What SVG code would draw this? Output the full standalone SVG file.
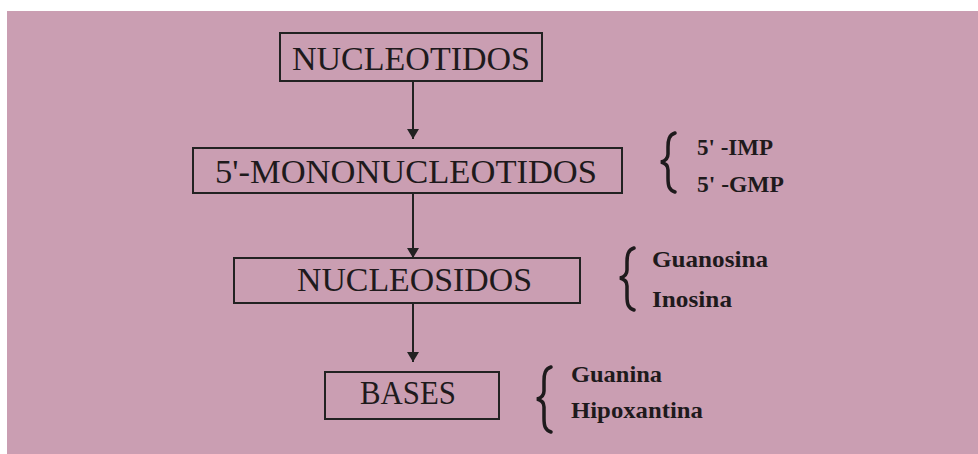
<svg xmlns="http://www.w3.org/2000/svg" width="978" height="454" viewBox="0 0 978 454">
<defs>
<style>
.box{fill:none;stroke:#222;stroke-width:2}
.main{font-family:"Liberation Serif","Times New Roman",serif;font-size:33px;fill:#1e1a1c}
.side{font-family:"Liberation Serif","Times New Roman",serif;font-size:23px;font-weight:bold;fill:#1e1a1c}
.conn{stroke:#222;stroke-width:2;fill:none}
.brace{stroke:#1e1a1c;stroke-width:3.5;fill:none;stroke-linecap:round}
</style>
<marker id="ah" viewBox="0 0 10 12" refX="10" refY="6" markerWidth="10" markerHeight="12" markerUnits="userSpaceOnUse" orient="auto">
<path d="M0,0 L10,6 L0,12 Z" fill="#222"/>
</marker>
</defs>
<rect x="7" y="11" width="971" height="443" fill="#ca9eb2"/>
<g id="connectors">
<line class="conn" x1="413" y1="81" x2="413" y2="139" marker-end="url(#ah)"/>
<line class="conn" x1="413" y1="193" x2="413" y2="258" marker-end="url(#ah)"/>
<line class="conn" x1="413" y1="303" x2="413" y2="362" marker-end="url(#ah)"/>
</g>
<g id="nucleotidos">
<rect class="box" x="280" y="33" width="262" height="48"/>
<text class="main" x="292" y="70" textLength="238" lengthAdjust="spacingAndGlyphs">NUCLEOTIDOS</text>
</g>
<g id="mononucleotidos">
<rect class="box" x="193" y="148" width="429" height="45"/>
<text class="main" x="215" y="183" textLength="382" lengthAdjust="spacingAndGlyphs">5'-MONONUCLEOTIDOS</text>
</g>
<g id="nucleosidos">
<rect class="box" x="234" y="258" width="346" height="45"/>
<text class="main" x="297" y="291" textLength="235" lengthAdjust="spacingAndGlyphs">NUCLEOSIDOS</text>
</g>
<g id="bases">
<rect class="box" x="325" y="372" width="174" height="47"/>
<text class="main" x="360" y="404" textLength="96" lengthAdjust="spacingAndGlyphs">BASES</text>
</g>
<g id="mono-list">
<path class="brace" d="M675,133 C669,135 668,140 668,147 L668,154 C668,159 665,161 661,162 C665,163 668,165 668,170 L668,178 C668,186 669,190 675,192"/>
<text class="side" x="697" y="155" textLength="76" lengthAdjust="spacingAndGlyphs">5' -IMP</text>
<text class="side" x="697" y="192" textLength="87" lengthAdjust="spacingAndGlyphs">5' -GMP</text>
</g>
<g id="nucleosidos-list">
<path class="brace" d="M634,248 C628,250 627,255 627,262 L627,270 C627,275 624,277 620,278 C624,279 627,281 627,286 L627,296 C627,304 628,308 634,310"/>
<text class="side" x="652" y="267" textLength="116" lengthAdjust="spacingAndGlyphs">Guanosina</text>
<text class="side" x="652" y="307" textLength="80" lengthAdjust="spacingAndGlyphs">Inosina</text>
</g>
<g id="bases-list">
<path class="brace" d="M551,367 C545,369 544,374 544,381 L544,391 C544,396 541,398 537,399 C541,400 544,402 544,407 L544,418 C544,426 545,430 551,432"/>
<text class="side" x="571" y="382" textLength="91" lengthAdjust="spacingAndGlyphs">Guanina</text>
<text class="side" x="571" y="418" textLength="132" lengthAdjust="spacingAndGlyphs">Hipoxantina</text>
</g>
</svg>
